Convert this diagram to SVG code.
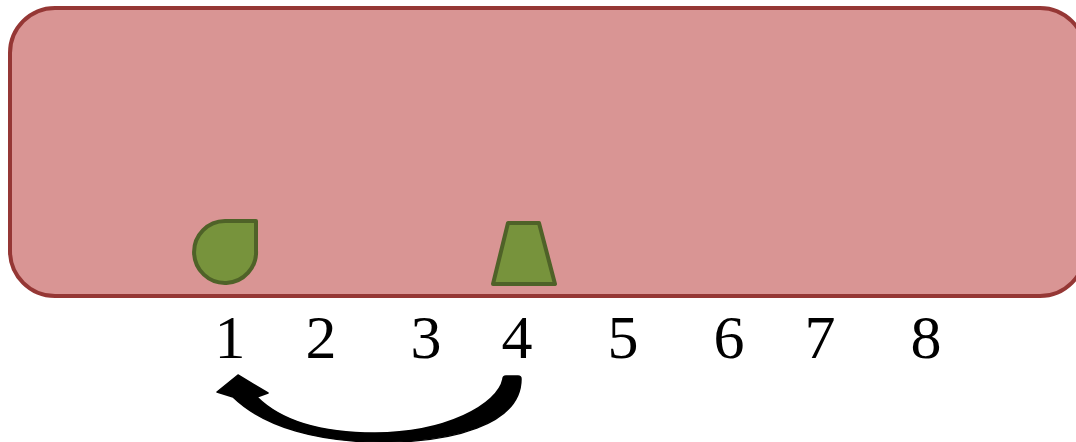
<svg xmlns="http://www.w3.org/2000/svg" width="1076" height="442" viewBox="0 0 1076 442">
<style>
.num{font-family:"Liberation Serif",serif;font-size:62px;fill:#000;text-anchor:middle}
.shape{fill:#77933c;stroke:#4f6228;stroke-width:4;stroke-linejoin:round}
</style>
<rect x="0" y="0" width="1076" height="442" fill="#fff"/>
<g id="box"><rect x="10" y="8" width="1075" height="288" rx="45" ry="45" fill="#d99594" stroke="#953735" stroke-width="4"/></g>
<g id="leaf"><path class="shape" d="M256 221 L256 250 A31 31 0 1 1 225 221 Z"/></g>
<g id="trap"><path class="shape" d="M508 223 L539 223 L555 284 L493 284 Z"/></g>
<g id="labels">
<text class="num" x="230" y="358">1</text>
<text class="num" x="321" y="358">2</text>
<text class="num" x="426" y="358">3</text>
<text class="num" x="517" y="358">4</text>
<text class="num" x="623" y="358">5</text>
<text class="num" x="729" y="358">6</text>
<text class="num" x="820" y="358">7</text>
<text class="num" x="926" y="358">8</text>
</g>
<g id="connectors">
<path fill="#000" stroke="#000" stroke-width="1.5" stroke-linejoin="round" d="M503 379 Q503 376 506 376 L518 376 Q521 376 521 379 C521 425 450 443 380 442 C320 442 265 428 233 397 L217 392 L238 375 L268 393 L257 397 C280 420 320 433 375 433 C445 433 498 405 503 379 Z"/>
</g>
</svg>
